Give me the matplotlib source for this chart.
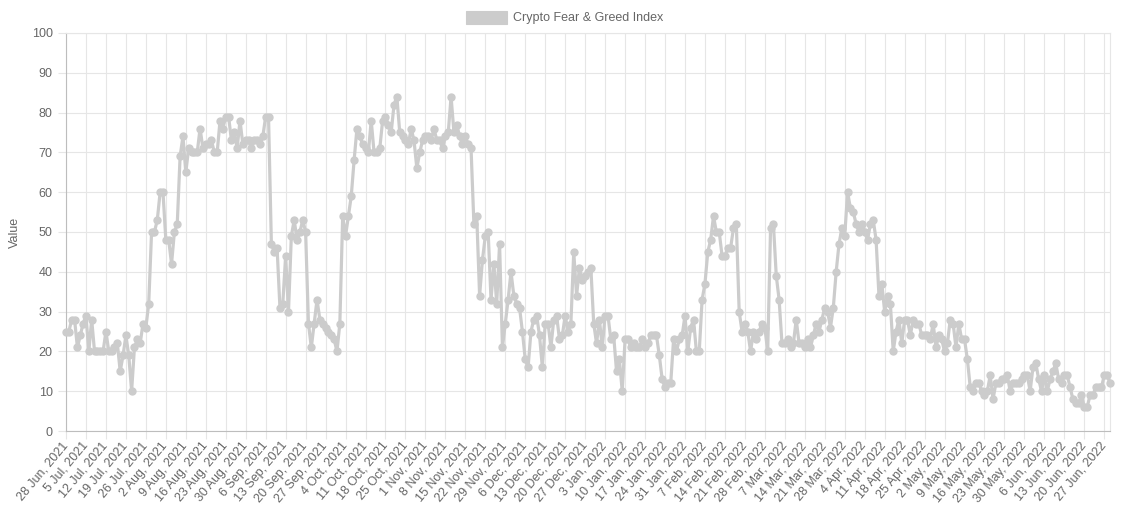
import numpy as np
import pandas as pd
import matplotlib
matplotlib.use("Agg")
import matplotlib.pyplot as plt
from matplotlib.patches import Rectangle

plt.rcParams['font.family'] = ['Liberation Sans', 'DejaVu Sans']

# Index values, one per day from 28 Jun 2021 (7 per row = one week)
fng_values = [
    25, 25, 28, 28, 21, 24, 27,
    29, 20, 28, 20, 20, 20, 20,
    25, 20, 20, 21, 22, 15, 19,
    24, 19, 10, 21, 23, 22, 27,
    26, 32, 50, 50, 53, 60, 60,
    48, 48, 42, 50, 52, 69, 74,
    65, 71, 70, 70, 70, 76, 71,
    72, 72, 73, 70, 70, 78, 76,
    79, 79, 73, 75, 71, 78, 72,
    73, 73, 71, 73, 73, 72, 74,
    79, 79, 47, 45, 46, 31, 32,
    44, 30, 49, 53, 48, 50, 53,
    50, 27, 21, 27, 33, 28, 27,
    26, 25, 24, 23, 20, 27, 54,
    49, 54, 59, 68, 76, 74, 72,
    71, 70, 78, 70, 70, 71, 78,
    79, 77, 75, 82, 84, 75, 74,
    73, 72, 76, 73, 66, 70, 73,
    74, 74, 73, 76, 73, 73, 71,
    74, 75, 84, 75, 77, 74, 72,
    74, 72, 71, 52, 54, 34, 43,
    49, 50, 33, 42, 32, 47, 21,
    27, 33, 40, 34, 32, 31, 25,
    18, 16, 25, 28, 29, 24, 16,
    27, 27, 21, 28, 29, 23, 24,
    29, 25, 27, 45, 34, 41, 38,
    39, 40, 41, 27, 22, 28, 21,
    29, 29, 23, 24, 15, 18, 10,
    23, 23, 21, 22, 21, 21, 23,
    21, 22, 24, 24, 24, 19, 13,
    11, 12, 12, 23, 20, 23, 24,
    29, 20, 26, 28, 20, 20, 33,
    37, 45, 48, 54, 50, 50, 44,
    44, 46, 46, 51, 52, 30, 25,
    27, 25, 20, 25, 23, 25, 27,
    26, 20, 51, 52, 39, 33, 22,
    22, 23, 21, 22, 28, 22, 22,
    21, 23, 21, 24, 27, 25, 28,
    31, 30, 26, 31, 40, 47, 51,
    49, 60, 56, 55, 52, 50, 52,
    50, 48, 52, 53, 48, 34, 37,
    30, 34, 32, 20, 25, 28, 22,
    28, 28, 24, 28, 27, 27, 24,
    24, 24, 23, 27, 21, 24, 23,
    20, 22, 28, 27, 21, 27, 23,
    23, 18, 11, 10, 12, 12, 10,
    9, 10, 14, 8, 12, 12, 13,
    13, 14, 10, 12, 12, 12, 13,
    14, 14, 10, 16, 17, 13, 10,
    14, 10, 13, 15, 17, 13, 12,
    14, 14, 11, 8, 7, 7, 9,
    6, 6, 9, 9, 11, 11, 11,
    14, 14, 12,
]
dates = pd.date_range("2021-06-28", periods=len(fng_values), freq="D")
date_labels = [f"{d.day} {d.strftime('%b')}, {d.year}" for d in dates]
series_name = "Crypto Fear & Greed Index"

line_col = "#cccccc"
grid_col = "#e6e6e6"
text_col = "#666666"

fig = plt.figure(figsize=(11.25, 5.08), dpi=100)
ax = fig.add_axes([66 / 1125, 77 / 508, 1044 / 1125, 398 / 508])

x = np.arange(len(fng_values))
ax.plot(x, fng_values, color=line_col, lw=2.3, marker="o", ms=5,
        mfc=line_col, mec=line_col, zorder=3, clip_on=False)

ax.set_xlim(0, len(fng_values) - 1)
ax.set_ylim(0, 100)
ax.set_yticks(np.arange(0, 101, 10))
ticks = x[::7]
ax.set_xticks(ticks)
ax.set_xticklabels([date_labels[i] for i in ticks], rotation=50,
                   ha="right", rotation_mode="anchor", va="center")

ax.grid(True, color=grid_col, lw=0.8)
ax.tick_params(axis="both", colors=grid_col, length=6, width=0.8,
               labelcolor=text_col, labelsize=9)
ax.tick_params(axis="x", pad=3)
for s in ["top", "right"]:
    ax.spines[s].set_color(grid_col)
    ax.spines[s].set_linewidth(0.8)
for s in ["left", "bottom"]:
    ax.spines[s].set_color("#bdbdbd")
    ax.spines[s].set_linewidth(0.8)

ax.set_ylabel("Value", color=text_col, fontsize=9, labelpad=8)

# legend drawn by hand, Chart.js style
fig.patches.append(Rectangle((466 / 1125, 484 / 508), 41 / 1125, 13 / 508,
                             transform=fig.transFigure, facecolor=line_col,
                             edgecolor=line_col, lw=0.8))
fig.text(513 / 1125, 490.5 / 508, series_name, color=text_col, fontsize=9,
         va="center", ha="left")

fig.savefig("out.png", dpi=100)
